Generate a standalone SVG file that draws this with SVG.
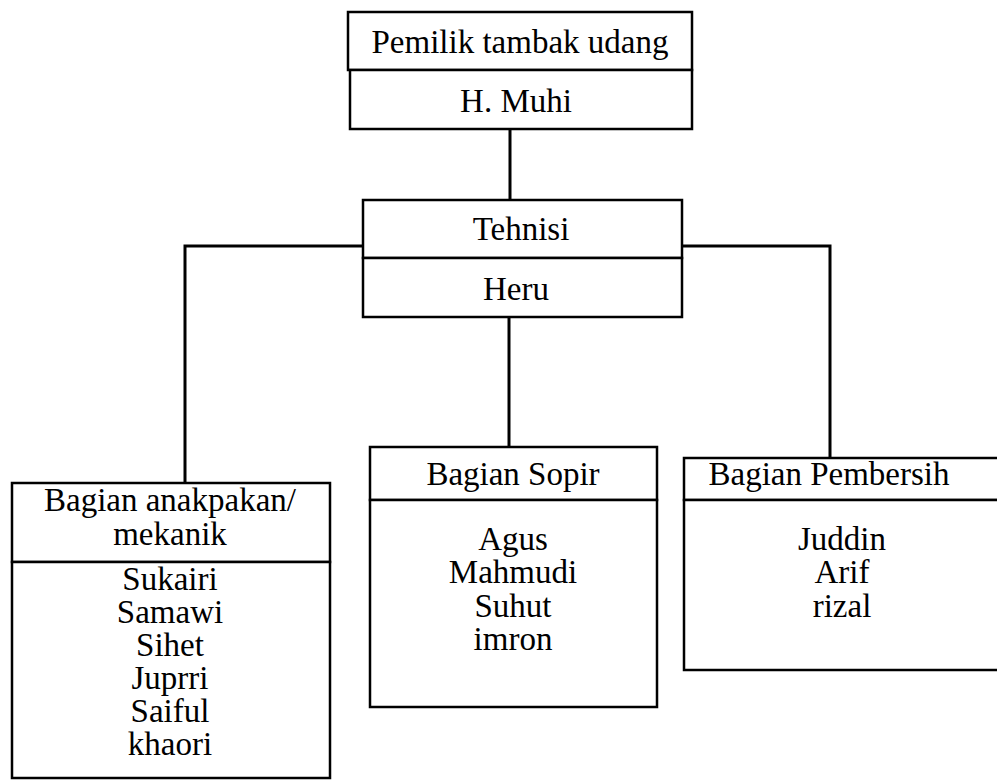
<svg xmlns="http://www.w3.org/2000/svg" width="997" height="780" viewBox="0 0 997 780">
<style>
.box{fill:#fff;stroke:#000;stroke-width:2.5}
.ln{fill:none;stroke:#000;stroke-width:3}
text{font-family:"Liberation Serif","Times New Roman",serif;font-size:33px;fill:#000;text-anchor:middle}
</style>
<rect width="997" height="780" fill="#fff"/>
<g id="connectors">
<line class="ln" x1="510" y1="129" x2="510" y2="200"/>
<polyline class="ln" points="363,246 185,246 185,483"/>
<polyline class="ln" points="682,246 830,246 830,458"/>
<line class="ln" x1="509" y1="317" x2="509" y2="447"/>
</g>
<g id="owner">
<rect class="box" x="348" y="12" width="344" height="58"/>
<text x="520" y="53">Pemilik tambak udang</text>
<rect class="box" x="350" y="70" width="342" height="59"/>
<text x="516" y="112">H. Muhi</text>
</g>
<g id="tehnisi">
<rect class="box" x="363" y="200" width="319" height="58"/>
<text x="521" y="240">Tehnisi</text>
<rect class="box" x="363" y="258" width="319" height="59"/>
<text x="516" y="300">Heru</text>
</g>
<g id="mekanik">
<rect class="box" x="12" y="483" width="318" height="79"/>
<text x="170" y="511">Bagian anakpakan/</text>
<text x="170" y="545">mekanik</text>
<rect class="box" x="12" y="562" width="318" height="216"/>
<text x="170" y="590">Sukairi</text>
<text x="170" y="623">Samawi</text>
<text x="170" y="656">Sihet</text>
<text x="170" y="689">Juprri</text>
<text x="170" y="722">Saiful</text>
<text x="170" y="755">khaori</text>
</g>
<g id="sopir">
<rect class="box" x="370" y="447" width="287" height="53"/>
<text x="513" y="485">Bagian Sopir</text>
<rect class="box" x="370" y="500" width="287" height="207"/>
<text x="513" y="550">Agus</text>
<text x="513" y="583">Mahmudi</text>
<text x="513" y="617">Suhut</text>
<text x="513" y="650">imron</text>
</g>
<g id="pembersih">
<rect class="box" x="684" y="458" width="320" height="42"/>
<text x="829" y="485">Bagian Pembersih</text>
<rect class="box" x="684" y="500" width="320" height="170"/>
<text x="842" y="550">Juddin</text>
<text x="842" y="583">Arif</text>
<text x="842" y="617">rizal</text>
</g>
</svg>
